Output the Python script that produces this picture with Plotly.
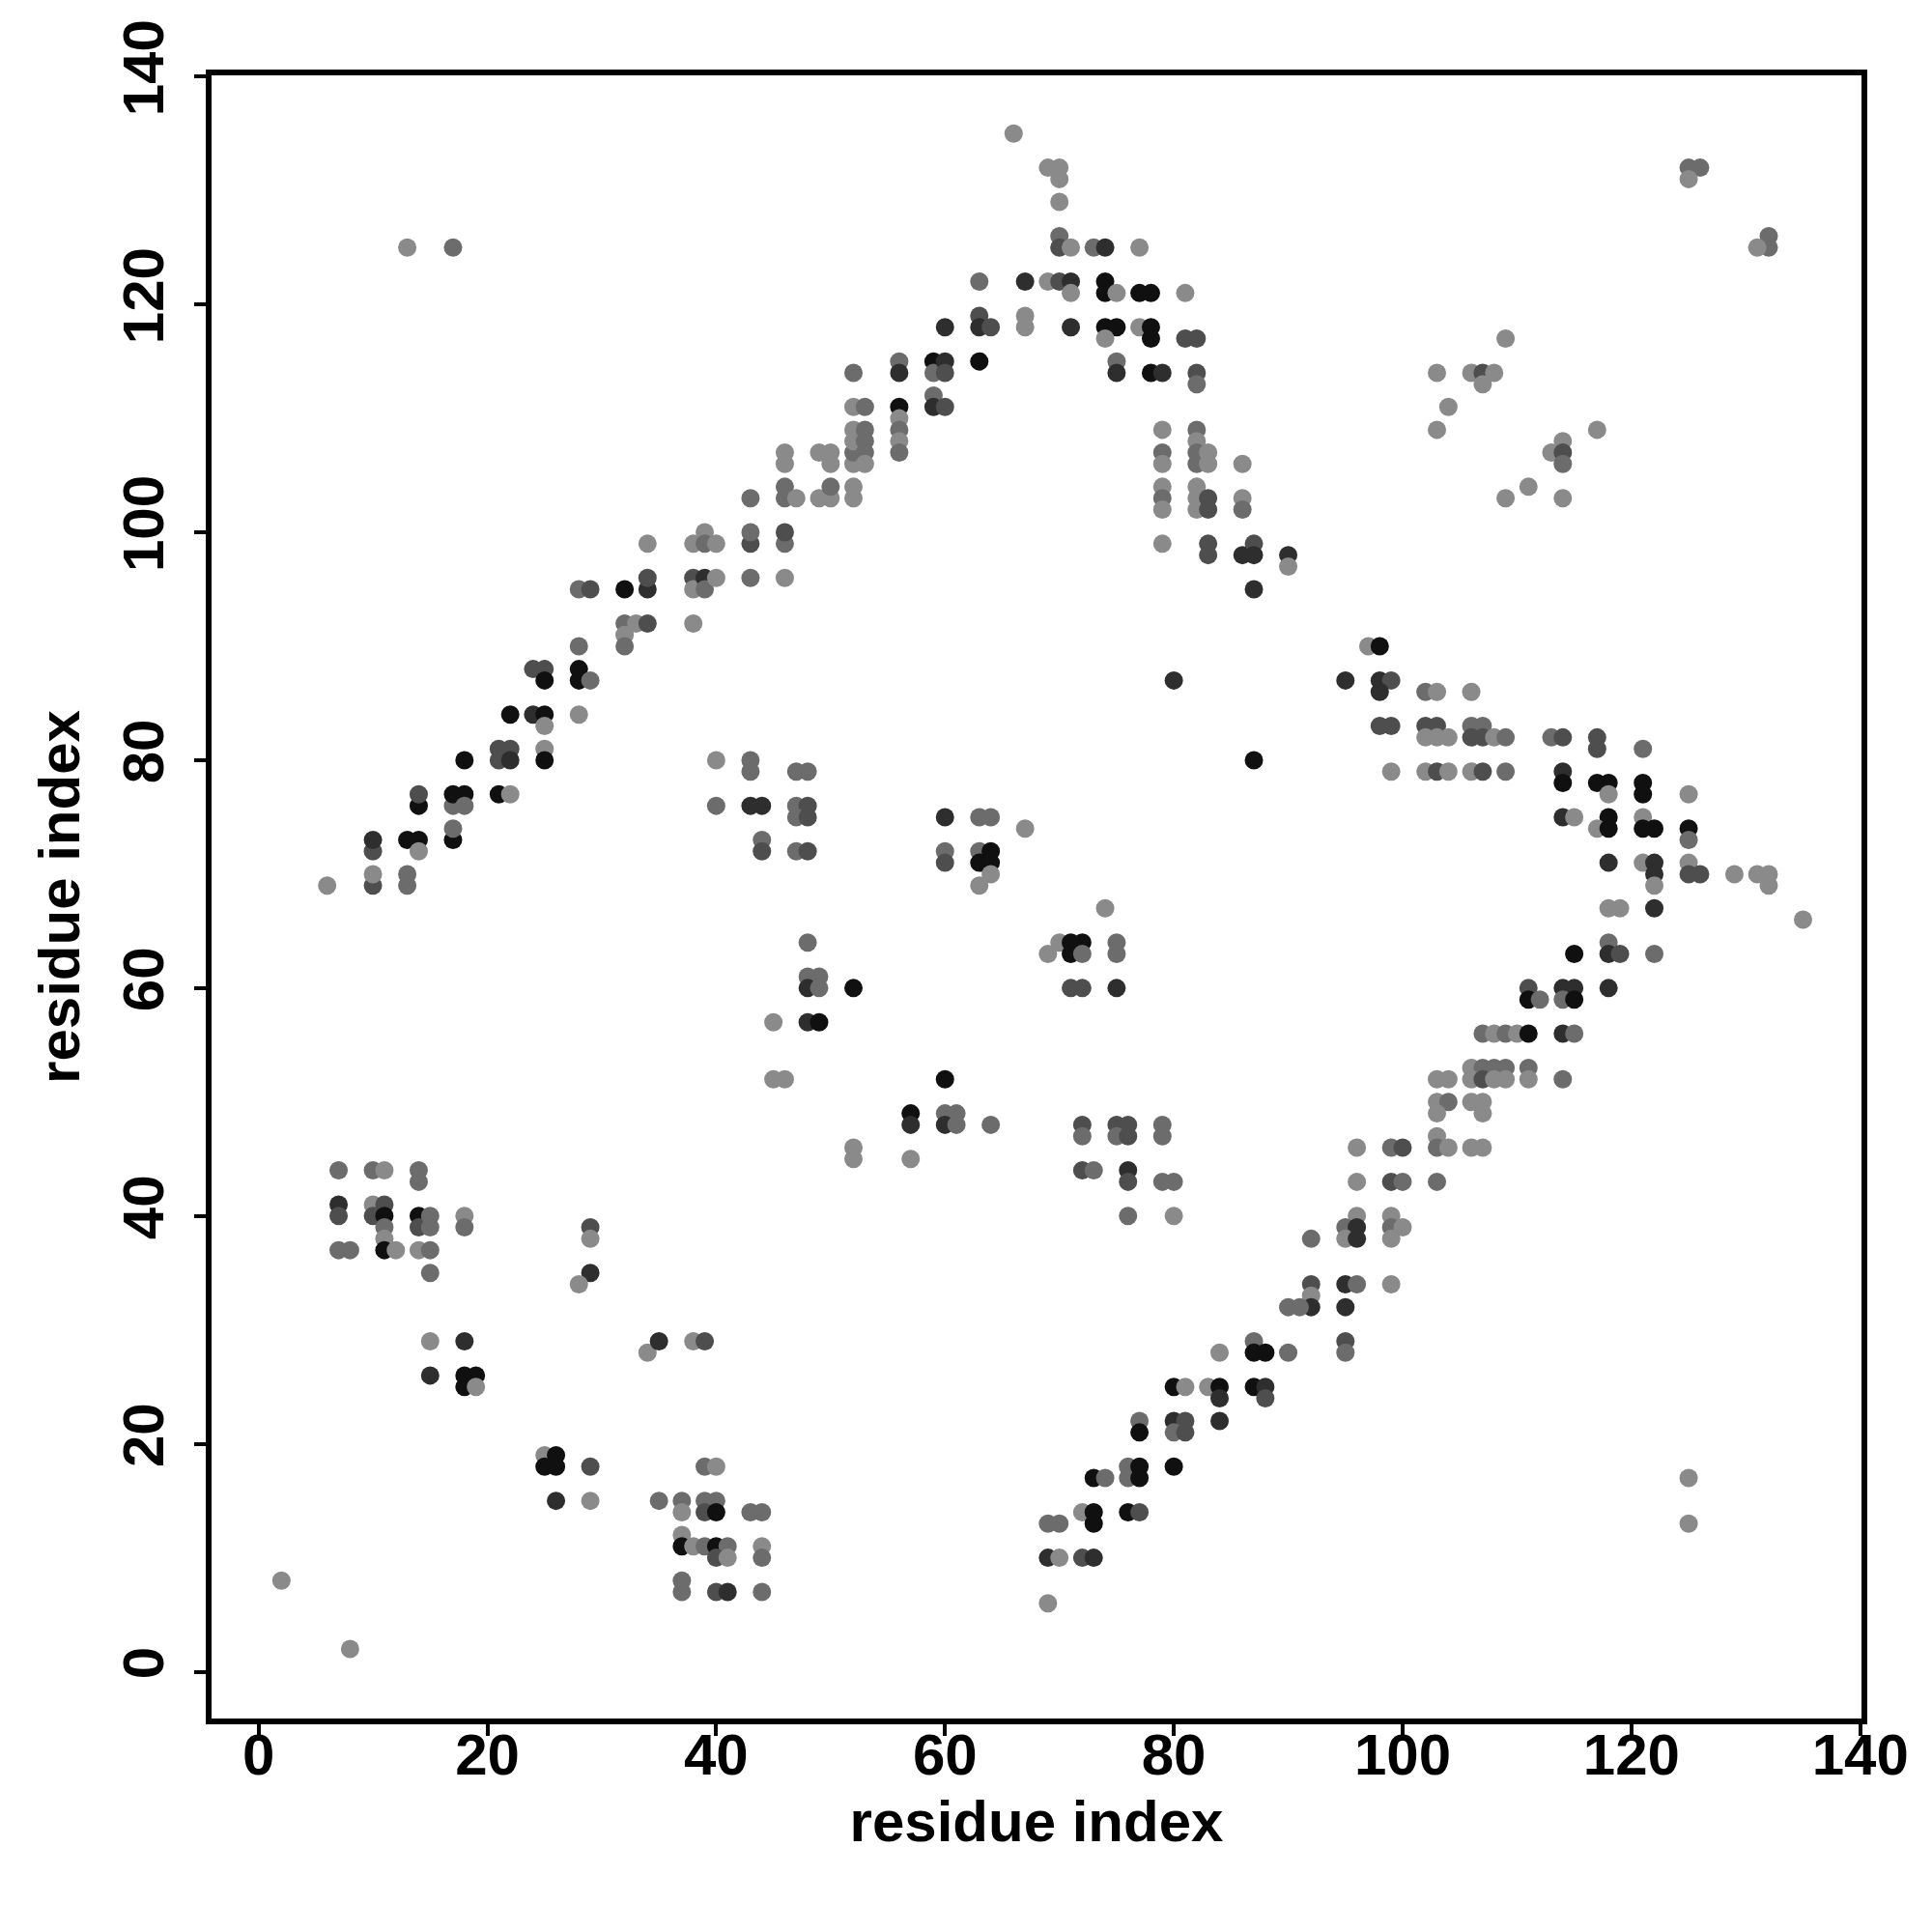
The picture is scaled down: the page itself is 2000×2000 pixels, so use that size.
import plotly.graph_objects as go

# contact list: (residue i, residue j, confidence level 1=strongest .. 5=weakest)
contacts = [
    (13,125,5),(17,125,4),
    (6,69,5),(10,69,3),(10,70,5),(10,72,3),(10,73,2),(13,69,4),(13,70,4),(13,73,1),(14,73,1),(14,72,5),
    (14,76,1),(14,77,3),(17,73,1),(17,74,4),(17,76,4),(17,77,1),(18,77,1),(18,76,4),(18,80,1),(21,77,1),
    (22,77,5),(21,81,3),(21,80,3),(22,81,3),(22,80,2),(22,84,1),(24,84,2),(25,84,1),(25,83,5),(25,81,5),
    (25,80,1),(24,88,3),(25,88,3),(25,87,1),(28,88,1),(28,87,1),(29,87,4),(28,84,5),(28,90,4),(28,95,4),(29,95,3),
    (32,92,4),(33,92,5),(32,91,5),(32,90,4),(34,92,3),(38,92,5),
    (32,95,1),(34,95,2),(34,96,3),(34,99,5),(38,96,3),(38,95,5),(39,96,2),(39,95,4),(40,96,5),(38,99,5),
    (39,100,5),(39,99,4),(40,99,5),(43,96,4),(43,99,3),(43,100,4),(43,103,4),(46,96,5),(46,99,4),(46,100,3),
    (46,103,4),(46,104,4),(47,103,5),(46,106,5),(46,107,5),(49,103,5),(49,107,5),(50,103,5),(50,104,4),
    (50,106,5),(50,107,5),(52,103,5),(52,104,5),(52,106,5),(52,107,4),(52,108,5),(52,109,5),(52,111,5),
    (52,114,4),(53,111,4),(53,109,4),(53,108,4),(53,107,4),(53,106,5),(56,115,4),(56,114,2),(56,111,1),
    (56,110,5),(56,109,4),(56,108,5),(56,107,4),(59,115,1),(59,114,4),(60,115,2),(60,114,3),(59,112,4),
    (59,111,2),(60,111,3),(60,118,2),(63,122,4),(63,119,3),(63,118,2),(64,118,3),(63,115,1),
    (66,135,5),(69,132,5),(70,132,5),(70,131,5),(70,129,5),(70,126,4),(70,125,3),(71,125,5),(73,125,4),
    (74,125,2),(77,125,5),(67,122,2),(69,122,5),(70,122,3),(71,122,2),(71,121,5),(74,122,1),(74,121,1),
    (75,121,5),(77,121,1),(78,121,1),(81,121,5),(67,119,5),(67,118,5),(71,118,2),(74,118,1),(75,118,1),
    (74,117,5),(77,118,5),(78,118,1),(78,117,1),(75,115,4),(75,114,2),(78,114,1),(79,114,2),(81,117,3),
    (82,117,3),(82,114,3),(82,113,4),(79,109,5),(79,107,4),(79,106,5),(79,104,5),(79,103,4),(79,102,5),
    (79,99,5),(82,109,4),(82,108,5),(82,107,4),(82,106,4),(83,107,5),(83,106,5),(82,104,5),(82,103,5),
    (82,102,5),(83,103,3),(83,102,3),(86,106,5),(86,103,5),(86,102,4),(83,99,3),(83,98,3),(86,98,2),
    (87,99,3),(87,98,2),(90,98,2),(90,97,5),(87,95,2),
    (125,132,4),(126,132,4),(125,131,5),(132,126,4),(132,125,4),(131,125,5),(109,117,5),(103,114,5),
    (106,114,5),(107,114,3),(108,114,5),(107,113,5),(104,111,5),(103,109,5),(117,109,5),(113,107,5),
    (114,108,5),(114,107,3),(114,106,4),(111,104,5),(109,103,5),(114,103,5),
    (97,90,5),(98,90,1),(95,87,2),(98,87,2),(99,87,3),(98,86,2),(102,86,4),(103,86,5),(106,86,5),(98,83,3),
    (99,83,3),(102,83,3),(103,83,3),(102,82,5),(103,82,5),(104,82,5),(106,83,4),(107,83,4),(106,82,3),
    (107,82,3),(108,82,5),(109,82,4),(99,79,5),(102,79,5),(103,79,3),(104,79,5),(106,79,5),(107,79,3),
    (109,79,4),(113,82,4),(114,82,3),(117,82,3),(117,81,3),(121,81,4),(114,79,2),(114,78,1),(117,78,1),
    (118,78,1),(118,77,5),(121,78,1),(121,77,1),(125,77,5),(114,75,2),(115,75,5),(118,75,1),(117,74,5),
    (118,74,1),(121,75,5),(121,74,1),(122,74,1),(125,74,1),(125,73,4),(118,71,2),(121,71,5),(122,71,2),
    (122,70,2),(122,69,5),(125,71,5),(125,70,3),(126,70,3),(129,70,5),(131,70,5),(132,70,5),(132,69,5),
    (135,66,5),(118,67,5),(119,67,5),(122,67,2),(118,64,4),(118,63,2),(119,63,3),(115,63,1),(122,63,4),
    (111,60,3),(114,60,2),(115,60,2),(118,60,2),
    (111,59,1),(112,59,4),(114,59,4),(115,59,1),(107,56,4),(108,56,5),(109,56,4),(110,56,5),(111,56,1),
    (114,56,2),(115,56,4),(106,53,5),(107,53,4),(108,53,4),(109,53,4),(111,53,4),(103,52,5),(104,52,5),
    (106,52,5),(107,52,3),(108,52,5),(109,52,5),(111,52,5),(114,52,4),(103,50,5),(104,50,4),(106,50,5),
    (107,50,5),(103,49,5),(107,49,5),(103,47,5),(103,46,4),(104,46,5),(106,46,5),(107,46,5),(96,46,5),
    (99,46,4),(100,46,3),(96,43,5),(99,43,3),(100,43,4),(103,43,4),(96,40,5),(95,39,4),(96,39,2),(99,40,5),
    (99,39,4),(100,39,5),(99,38,5),(99,34,5),
    (92,38,4),(95,38,5),(96,38,2),(92,34,3),(92,33,5),(92,32,2),(90,32,4),(91,32,4),(95,34,2),(96,34,4),
    (95,32,2),(95,29,3),(95,28,4),(84,28,5),(87,29,4),(87,28,1),(88,28,1),(90,28,4),(80,25,1),(81,25,5),
    (83,25,5),(84,25,1),(84,24,2),(87,25,1),(88,25,2),(88,24,3),(84,22,2),(77,22,4),(77,21,1),(80,22,2),
    (81,22,3),(80,21,4),(81,21,3),(80,18,1),(76,18,4),(76,17,4),(77,18,1),(77,17,1),(73,17,1),(74,17,4),
    (72,14,5),(73,14,1),(73,13,1),(76,14,1),(77,14,3),(69,13,4),(70,13,4),(69,10,2),(70,10,5),(72,10,3),
    (73,10,2),(69,6,5),
    (80,87,2),(87,80,1),(74,67,5),(70,64,5),(69,63,5),(71,64,1),(72,64,1),(71,63,1),(72,63,4),(75,64,4),
    (75,63,4),(71,60,3),(72,60,3),(75,60,2),(72,48,3),(72,47,4),(75,48,3),(76,48,3),(75,47,4),(76,47,3),
    (79,48,4),(79,47,4),(72,44,3),(73,44,4),(76,44,2),(76,43,3),(79,43,4),(80,43,4),(76,40,4),(80,40,5),
    (40,80,5),(43,80,4),(43,79,4),(47,79,4),(48,79,4),(40,76,4),(43,76,2),(44,76,2),(47,76,4),(48,76,3),
    (47,75,4),(48,75,3),(44,73,4),(44,72,3),(47,72,4),(48,72,3),(60,75,2),(63,75,4),(64,75,4),(67,74,5),
    (60,72,4),(60,71,3),(63,72,4),(64,72,1),(63,71,1),(64,71,1),(64,70,5),(63,69,5),(48,64,4),(48,61,4),
    (49,61,4),(48,60,2),(49,60,4),(52,60,1),(45,57,5),(48,57,2),(49,57,1),(45,52,5),(46,52,5),(60,52,1),
    (57,49,1),(57,48,2),(60,49,4),(61,49,4),(60,48,2),(61,48,4),(64,48,4),(52,46,5),(52,45,5),(57,45,5),
    (7,44,4),(10,44,4),(11,44,5),(14,44,4),(14,43,4),(7,41,2),(7,40,3),(10,41,5),(11,41,3),(10,40,3),
    (11,40,1),(11,39,4),(11,38,5),(11,37,1),(12,37,5),(7,37,4),(8,37,4),(14,40,1),(14,39,3),(15,40,4),
    (15,39,4),(14,37,5),(15,37,4),(15,35,4),(18,40,5),(18,39,4),(15,29,5),(18,29,2),(15,26,2),(18,26,1),
    (19,26,1),(18,25,1),(19,25,5),(29,39,3),(29,38,5),(29,35,2),(28,34,5),(25,19,5),(26,19,1),(25,18,1),
    (26,18,1),(29,18,3),(26,15,2),(29,15,5),(2,8,5),(8,2,5),
    (34,28,5),(35,29,2),(38,29,5),(39,29,3),(39,18,4),(40,18,5),(35,15,4),(37,15,4),(37,14,5),(39,15,4),
    (40,15,4),(39,14,3),(40,14,1),(43,14,4),(44,14,4),(37,12,5),(37,11,1),(38,11,5),(39,11,4),(40,11,1),
    (41,11,4),(40,10,3),(41,10,5),(44,11,5),(44,10,4),(37,8,4),(37,7,4),(40,7,3),(41,7,2),(44,7,4),
    (125,17,5),(125,13,5),
]

res_i = [c[0] for c in contacts]
res_j = [c[1] for c in contacts]
level = [c[2] for c in contacts]

shade = {1: "#101010", 2: "#2e2e2e", 3: "#4e4e4e", 4: "#6c6c6c", 5: "#8a8a8a"}
colors = [shade[v] for v in level]

tick_vals = [0, 20, 40, 60, 80, 100, 120, 140]
axis_range = [-4.36, 140.36]
font_family = "Liberation Sans, Arial, sans-serif"

fig = go.Figure()
fig.add_trace(go.Scatter(
    x=res_i, y=res_j, mode="markers",
    marker=dict(size=19, color=colors, line=dict(width=0)),
    showlegend=False, hoverinfo="x+y",
))

# plot frame (box centred on the plot-region edge)
fig.add_shape(type="rect", xref="paper", yref="paper", x0=0, y0=0, x1=1, y1=1,
              line=dict(color="black", width=6), layer="above")

axis_common = dict(
    range=axis_range, tickvals=tick_vals, ticks="outside", ticklen=14, tickwidth=4,
    tickcolor="black", showline=False, showgrid=False, zeroline=False,
    tickfont=dict(family=font_family, size=60, color="black", weight="bold"),
)

fig.update_layout(
    width=1992, height=1992,
    paper_bgcolor="white", plot_bgcolor="white",
    margin=dict(l=208, r=70, t=62, b=218),
    font=dict(family=font_family, color="black"),
    xaxis=dict(**axis_common, ticklabelstandoff=-32,
               title=dict(text="<b>residue index</b>", font=dict(size=60, family=font_family), standoff=14)),
    yaxis=dict(**axis_common, tickangle=-90, ticklabelstandoff=8,
               title=dict(text="<b>residue index</b>", font=dict(size=60, family=font_family), standoff=13)),
)

fig.write_html("out.html")
